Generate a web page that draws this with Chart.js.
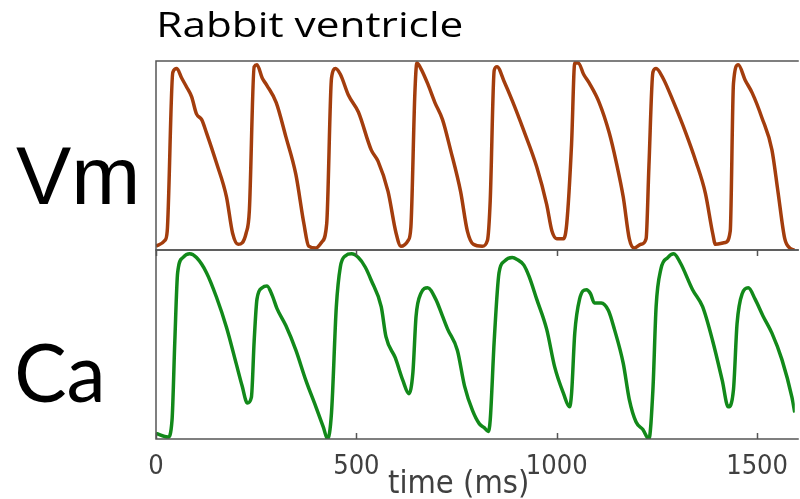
<!DOCTYPE html>
<html>
<head>
<meta charset="utf-8">
<script src="https://cdn.jsdelivr.net/npm/chart.js@4/dist/chart.umd.min.js"></script>
<style>
  html, body { margin: 0; padding: 0; background: #fff; }
  #wrap { width: 800px; height: 499px; position: relative; }
</style>
</head>
<body>
<div id="wrap"><canvas id="traces"></canvas></div>
<script>
// --- Optical mapping traces (time in ms, signal in normalised units 0-100) ---
const vmTime = [0,22,28,42,52,64,77,89,101,114,126,151,176,191,205,225,233,245,252,265,
  277,300,324,349,369,381,399,413,426,438,448,460,480,505,537,554,579,599,611,629,
  636,646,651,661,678,696,715,735,760,777,792,814,827,834,844,851,869,889,918,950,
  975,988,1000,1017,1025,1037,1045,1054,1067,1082,1106,1131,1149,1166,1181,1193,1210,1223,1230,1240,
  1248,1265,1290,1322,1347,1371,1389,1396,1421,1433,1441,1453,1470,1488,1512,1537,1552,1569,1582,1594];
const vmValue = [2,5,10,94,96,91,86,81,72,69,62,46,28,9,3,9,21,97,98,91,
  87,78,60,40,14,2,1,4,14,91,96,93,82,73,53,47,31,9,2,5,
  12,83,99,96,88,78,69,53,31,10,3,2,5,26,95,97,89,79,63,44,
  24,10,6,6,14,56,99,99,93,88,78,62,46,28,6,1,3,6,44,94,
  96,91,79,62,47,30,9,3,4,10,88,98,90,83,70,53,31,6,1,0];

const caTime = [0,30,40,47,54,67,84,101,126,151,176,200,215,228,238,245,252,265,277,290,
  302,324,349,374,399,418,428,438,450,460,473,488,505,522,537,562,574,597,616,631,
  641,649,661,678,698,715,728,752,770,790,807,819,829,834,844,856,869,889,901,918,
  931,950,975,995,1017,1032,1037,1045,1057,1074,1084,1094,1111,1129,1144,1166,1181,1198,1215,1230,
  1240,1248,1260,1277,1292,1309,1339,1364,1389,1413,1428,1441,1450,1463,1478,1495,1515,1537,1562,1587,1594];
const caValue = [3,1,10,52,88,96,98,96,88,75,59,40,28,19,22,52,74,80,81,76,
  69,60,47,31,17,6,0,14,70,91,97,98,96,91,84,70,54,43,31,24,
  35,65,77,80,74,65,58,47,28,15,8,6,4,10,52,88,94,96,95,92,
  86,74,58,38,24,17,24,56,74,79,77,72,72,68,58,40,21,9,5,0,
  26,70,90,96,98,93,79,70,52,31,17,26,61,77,80,74,65,56,42,22,14];

const xTicks = [0, 500, 1000, 1500];
const xMax = 1594;

const vmColor = '#a33d0d';
const caColor = '#12891a';
const axisColor = '#555555';
const textGrey = '#404040';

function toPoints(xs, ys) {
    return xs.map((t, i) => ({ x: t, y: ys[i] }));
}

// draw text so its ink starts at `left` and spans `width` pixels
function fitText(ctx, text, font, left, baseline, width, color) {
    ctx.save();
    ctx.font = font;
    ctx.fillStyle = color;
    ctx.textAlign = 'left';
    ctx.textBaseline = 'alphabetic';
    const m = ctx.measureText(text);
    const ink = m.actualBoundingBoxLeft + m.actualBoundingBoxRight;
    ctx.translate(left, baseline);
    ctx.scale(width / ink, 1);
    ctx.fillText(text, m.actualBoundingBoxLeft, 0);
    ctx.restore();
}

// --- Panel boxes and inward ticks ---
const panelFrame = {
    id: 'panelFrame',
    afterDatasetsDraw(chart) {
        const { ctx, chartArea, scales } = chart;
        const x = scales.x;
        const right = chartArea.right + 4;
        ctx.save();
        ctx.strokeStyle = axisColor;
        ctx.lineWidth = 1.5;
        [scales.yVm, scales.yCa].forEach(s => {
            ctx.beginPath();
            ctx.moveTo(right, s.top);
            ctx.lineTo(x.left, s.top);
            ctx.lineTo(x.left, s.bottom);
            ctx.lineTo(right, s.bottom);
            ctx.stroke();
        });
        const ca = scales.yCa;
        xTicks.forEach(v => {
            const px = Math.round(x.getPixelForValue(v)) + 0.5;
            ctx.beginPath();
            ctx.moveTo(px, ca.top);
            ctx.lineTo(px, ca.top + 6);
            ctx.moveTo(px, ca.bottom);
            ctx.lineTo(px, ca.bottom - 6);
            ctx.stroke();
        });
        ctx.restore();
    }
};

// --- Title, panel names and time label ---
const panelText = {
    id: 'panelText',
    afterDraw(chart) {
        const ctx = chart.ctx;
        fitText(ctx, 'Rabbit ventricle', '34px "Open Sans"', 160, 37, 302, '#000');
        fitText(ctx, 'Vm', '82px "Liberation Sans"', 16, 204, 119, '#000');
        fitText(ctx, 'Ca', '82px Lato', 17, 402, 84, '#000');
        fitText(ctx, 'time (ms)', '32px "DejaVu Sans"', 388, 493, 139, textGrey);
    }
};

new Chart(document.getElementById('traces'), {
    type: 'line',
    data: {
        datasets: [
            {
                label: 'Vm',
                data: toPoints(vmTime, vmValue),
                yAxisID: 'yVm',
                borderColor: vmColor,
                borderWidth: 3.5,
                pointRadius: 0,
                cubicInterpolationMode: 'monotone'
            },
            {
                label: 'Ca',
                data: toPoints(caTime, caValue),
                yAxisID: 'yCa',
                borderColor: caColor,
                borderWidth: 3.5,
                pointRadius: 0,
                cubicInterpolationMode: 'monotone'
            }
        ]
    },
    options: {
        responsive: true,
        maintainAspectRatio: false,
        animation: false,
        layout: { padding: { top: 61, left: 156, right: 0, bottom: 0 } },
        plugins: {
            legend: { display: false },
            tooltip: { enabled: false }
        },
        scales: {
            x: {
                type: 'linear',
                min: 0,
                max: xMax,
                afterBuildTicks: scale => { scale.ticks = xTicks.map(v => ({ value: v })); },
                afterFit: scale => { scale.height = 60; },
                grid: { display: false, drawTicks: false },
                border: { display: false },
                ticks: {
                    padding: 12,
                    maxRotation: 0,
                    autoSkip: false,
                    color: textGrey,
                    font: { family: '"DejaVu Sans Condensed", "DejaVu Sans"', size: 27 },
                    callback: v => String(v)
                }
            },
            // stacked panels: the first one listed sits at the bottom
            yCa: {
                type: 'linear',
                stack: 'panels',
                stackWeight: 1,
                min: 0,
                max: 100,
                display: false
            },
            yVm: {
                type: 'linear',
                stack: 'panels',
                stackWeight: 1,
                min: 0,
                max: 100,
                display: false
            }
        }
    },
    plugins: [panelFrame, panelText]
});
</script>
</body>
</html>
